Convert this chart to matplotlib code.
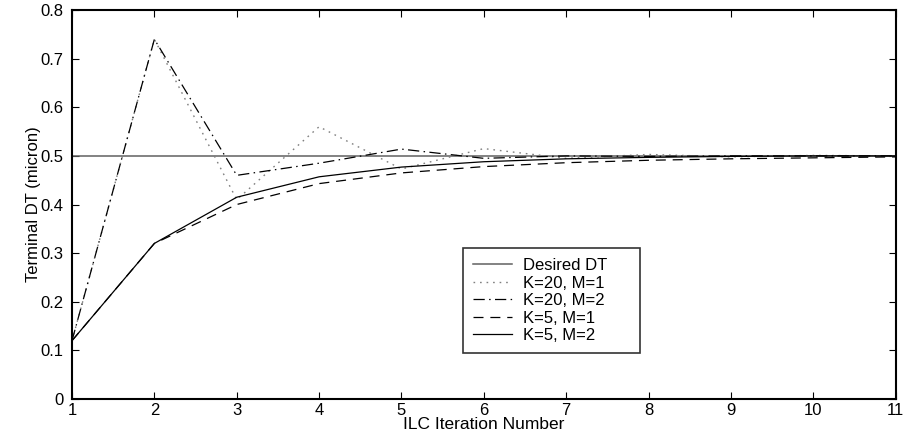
import matplotlib
matplotlib.use('Agg')
import matplotlib.pyplot as plt
import numpy as np

plt.rcParams['font.family'] = ['Liberation Sans', 'DejaVu Sans']

iterations = np.arange(1, 12)
desired = [0.5] * 11
k20_m1 = [0.12, 0.74, 0.41, 0.56, 0.473, 0.515, 0.495, 0.503, 0.498, 0.501, 0.5]
k20_m2 = [0.12, 0.74, 0.46, 0.485, 0.514, 0.495, 0.5, 0.499, 0.5, 0.5, 0.5]
k5_m1 = [0.12, 0.32, 0.40, 0.443, 0.465, 0.478, 0.486, 0.491, 0.494, 0.496, 0.498]
k5_m2 = [0.12, 0.32, 0.415, 0.457, 0.477, 0.488, 0.494, 0.497, 0.499, 0.5, 0.5]

labels = ['Desired DT', 'K=20, M=1', 'K=20, M=2', 'K=5, M=1', 'K=5, M=2']
yticks = [0, 0.1, 0.2, 0.3, 0.4, 0.5, 0.6, 0.7, 0.8]
ytick_labels = ['0', '0.1', '0.2', '0.3', '0.4', '0.5', '0.6', '0.7', '0.8']

fig = plt.figure(figsize=(9.06, 4.37), dpi=100)
ax = fig.add_axes([0.0795, 0.087, 0.909, 0.890])

ax.plot(iterations, desired, '-', color='#606060', lw=1.1, label=labels[0])
ax.plot(iterations, k20_m1, color='#808080', lw=1.0, dashes=(1.2, 3.5), label=labels[1])
ax.plot(iterations, k20_m2, color='black', lw=0.9, dashes=(9, 3.5, 1.2, 3.5), label=labels[2])
ax.plot(iterations, k5_m1, color='black', lw=0.9, dashes=(8, 5.5), label=labels[3])
ax.plot(iterations, k5_m2, '-', color='black', lw=0.9, label=labels[4])

ax.set_xlim(1, 11)
ax.set_ylim(0, 0.8)
ax.set_xticks(iterations)
ax.set_yticks(yticks)
ax.set_yticklabels(ytick_labels)
ax.tick_params(direction='in', top=True, right=True, labelsize=12, length=5)
ax.tick_params(axis='x', pad=3)
ax.tick_params(axis='y', pad=6)
for s in ax.spines.values():
    s.set_linewidth(1.5)

ax.set_xlabel('ILC Iteration Number', fontsize=12.5, labelpad=-1)
ax.set_ylabel('Terminal DT (micron)', fontsize=12, labelpad=0)

# legend box: x 463-640, y 248-351 px in the reference
leg = ax.legend(loc='upper left', bbox_to_anchor=(0.475, 0.388, 0.215, 0.0),
                mode='expand', fontsize=12, frameon=True, fancybox=False,
                edgecolor='black', handlelength=2.3, labelspacing=0.15,
                borderpad=0.6, handletextpad=0.7, borderaxespad=0.0)
leg.get_frame().set_linewidth(1.2)

fig.savefig('out.png', dpi=100)
